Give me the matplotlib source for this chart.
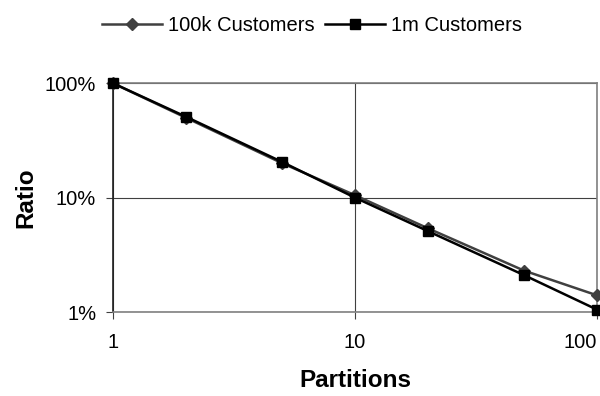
import matplotlib
matplotlib.use("Agg")
import matplotlib.pyplot as plt
from matplotlib.ticker import FuncFormatter, NullLocator, FixedLocator

plt.rcParams['font.family'] = ['Liberation Sans', 'DejaVu Sans']

# partitions vs. ratio for both customer set sizes
partitions = [1, 2, 5, 10, 20, 50, 100]
ratio_100k = [1.0, 0.50, 0.20, 0.105, 0.054, 0.023, 0.014]
ratio_1m = [1.0, 0.51, 0.205, 0.100, 0.051, 0.021, 0.0105]

fig = plt.figure(figsize=(6, 3.96), dpi=100)
ax = fig.add_axes([0.188, 0.212, 0.807, 0.578])

ax.plot(partitions, ratio_100k, color='#404040', lw=1.8, marker='D',
        ms=6, label='100k Customers', clip_on=False, zorder=3)
ax.plot(partitions, ratio_1m, color='black', lw=1.8, marker='s',
        ms=6.5, label='1m Customers', clip_on=False, zorder=4)

ax.set_xscale('log')
ax.set_yscale('log')
ax.set_xlim(1, 100)
ax.set_ylim(0.01, 1)

ax.xaxis.set_major_locator(FixedLocator([1, 10, 100]))
ax.yaxis.set_major_locator(FixedLocator([0.01, 0.1, 1]))
ax.xaxis.set_minor_locator(NullLocator())
ax.yaxis.set_minor_locator(NullLocator())
ax.xaxis.set_major_formatter(FuncFormatter(lambda v, p: f'{v:g}'))
ax.yaxis.set_major_formatter(FuncFormatter(lambda v, p: f'{v * 100:.0f}%'))

ax.grid(True, color='#404040', lw=0.8)
for side in ['top', 'right', 'bottom']:
    ax.spines[side].set_color('#808080')
    ax.spines[side].set_linewidth(1.2)
ax.spines['left'].set_color('#202020')
ax.spines['left'].set_linewidth(1.2)
ax.tick_params(axis='both', direction='out', length=5, width=0.8,
               colors='#404040', labelcolor='black', labelsize=14.5)
ax.tick_params(axis='x', pad=10)
ax.tick_params(axis='y', pad=7)

# keep the last x label inside the figure
fig.canvas.draw()
ax.get_xticklabels()[-1].set_horizontalalignment('right')

ax.set_xlabel('Partitions', fontsize=17.5, fontweight='bold', labelpad=12)
ax.set_ylabel('Ratio', fontsize=17.5, fontweight='bold', labelpad=5)

fig.legend(loc='center', bbox_to_anchor=(0.52, 0.935), ncol=2, frameon=False,
           fontsize=14.5, handlelength=3, columnspacing=0.5, handletextpad=0.3)

fig.savefig('out.png', dpi=100)
